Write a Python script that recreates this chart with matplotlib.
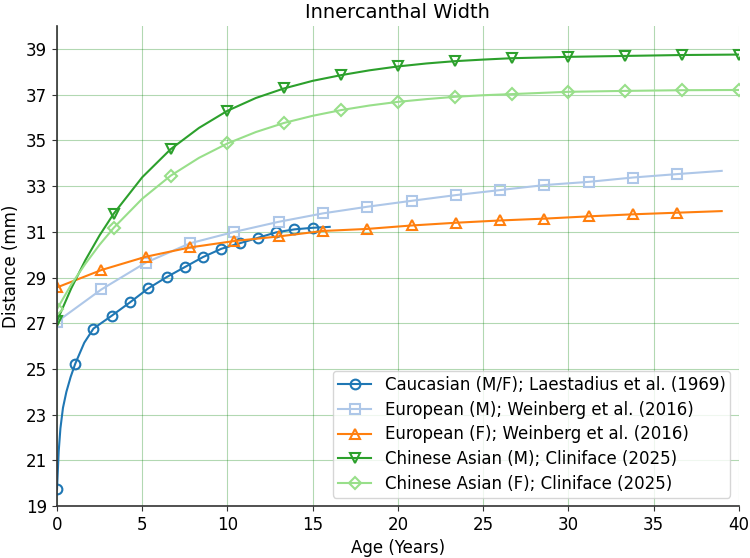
import matplotlib
matplotlib.use("Agg")
import matplotlib.pyplot as plt

# ---- data ----
cauc_age = [0, 0.1, 0.2, 0.35, 0.55, 0.8, 1.07, 1.6, 2.14, 3.21, 4.29, 5.36, 6.43, 7.5,
            8.57, 9.64, 10.71, 11.79, 12.86, 13.93, 15.0, 16.0]
cauc_val = [19.74, 21.4, 22.4, 23.3, 24.0, 24.65, 25.23, 26.15, 26.77, 27.33, 27.92, 28.53,
            29.02, 29.46, 29.9, 30.26, 30.5, 30.74, 30.98, 31.11, 31.18, 31.22]
cauc_marks = [0, 6, 8, 9, 10, 11, 12, 13, 14, 15, 16, 17, 18, 19, 20]

eur_age = [0, 2.6, 5.2, 7.8, 10.4, 13.0, 15.6, 18.2, 20.8, 23.4, 26.0, 28.6, 31.2,
           33.8, 36.4, 39.0]
eur_m_val = [27.07, 28.48, 29.65, 30.5, 31.0, 31.44, 31.81, 32.1, 32.36, 32.61, 32.83,
             33.05, 33.19, 33.38, 33.53, 33.67]
eur_f_val = [28.57, 29.33, 29.91, 30.32, 30.6, 30.8, 31.04, 31.13, 31.28, 31.4, 31.5,
             31.58, 31.68, 31.77, 31.84, 31.91]
eur_marks = list(range(15))

chn_age = [0, 0.83, 1.67, 2.5, 3.33, 5.0, 6.67, 8.33, 10.0, 11.67, 13.33, 15.0, 16.67,
           18.33, 20.0, 21.67, 23.33, 25.0, 26.67, 30.0, 33.33, 36.67, 40.0]
chn_m_val = [27.1, 28.52, 29.77, 30.85, 31.8, 33.39, 34.62, 35.55, 36.3, 36.86, 37.28,
             37.61, 37.86, 38.07, 38.24, 38.37, 38.47, 38.54, 38.6, 38.66, 38.7, 38.74,
             38.76]
chn_f_val = [27.62, 28.69, 29.61, 30.44, 31.18, 32.45, 33.46, 34.24, 34.87, 35.37, 35.77,
             36.08, 36.33, 36.53, 36.69, 36.81, 36.91, 36.98, 37.03, 37.13, 37.17, 37.2,
             37.21]
chn_marks = [0, 4, 6, 8, 10, 12, 14, 16, 18, 19, 20, 21, 22]

labels = ["Caucasian (M/F); Laestadius et al. (1969)",
          "European (M); Weinberg et al. (2016)",
          "European (F); Weinberg et al. (2016)",
          "Chinese Asian (M); Cliniface (2025)",
          "Chinese Asian (F); Cliniface (2025)"]
xticks = [0, 5, 10, 15, 20, 25, 30, 35, 40]
yticks = [19, 21, 23, 25, 27, 29, 31, 33, 35, 37, 39]

plt.rcParams['font.family'] = ['DejaVu Sans']
plt.rcParams['font.size'] = 12

fig = plt.figure(figsize=(7.5, 5.58), dpi=100)
ax = fig.add_axes([0.076, 0.093, 0.909, 0.860])

series = [
    (cauc_age, cauc_val, cauc_marks, '#1f77b4', 'o'),
    (eur_age, eur_m_val, eur_marks, '#aec7e8', 's'),
    (eur_age, eur_f_val, eur_marks, '#ff7f0e', '^'),
    (chn_age, chn_m_val, chn_marks, '#2ca02c', 'v'),
    (chn_age, chn_f_val, chn_marks, '#98df8a', 'D'),
]
for (a, v, mk, c, m), lab in zip(series, labels):
    ms = 6 if m == 'D' else 7
    ax.plot(a, v, color=c, marker=m, markevery=mk, markersize=ms,
            markerfacecolor='none', markeredgewidth=1.5, linewidth=1.5, label=lab)

ax.set_xlim(0, 40)
ax.set_ylim(19, 40)
ax.set_xticks(xticks)
ax.set_yticks(yticks)
ax.grid(True, color='green', alpha=0.3, linewidth=0.8)
ax.set_axisbelow(True)
for s in ['top', 'right']:
    ax.spines[s].set_visible(False)
for s in ['left', 'bottom']:
    ax.spines[s].set_color('#333333')
    ax.spines[s].set_linewidth(1.2)
ax.tick_params(color='#333333')

ax.set_title("Innercanthal Width", fontsize=14)
ax.set_xlabel("Age (Years)")
ax.set_ylabel("Distance (mm)")
ax.legend(loc='lower right', labelspacing=0.4, borderpad=0.3)

fig.savefig("out.png", dpi=100)
